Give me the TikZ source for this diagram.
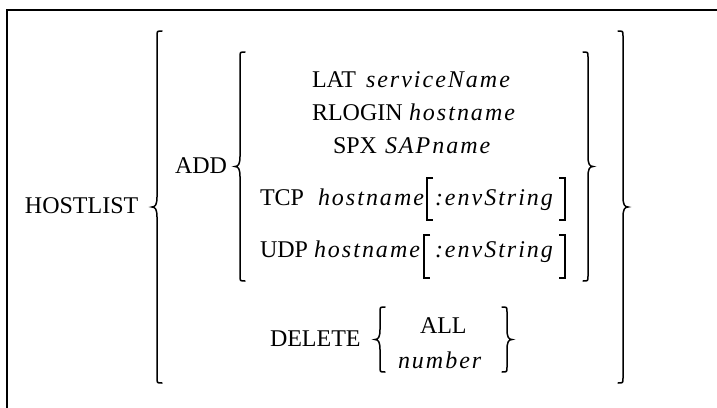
\documentclass[tikz,border=0pt]{standalone}
\usepackage{fontspec}
\setmainfont{Liberation Serif}
\ExplSyntaxOn
\NewDocumentCommand{\iv}{m}{{\itshape \tl_map_inline:nn {#1}{##1\kern1.0pt}}}
\ExplSyntaxOff
\tikzset{
  txt/.style={anchor=base west, inner sep=0pt, outer sep=0pt, font=\fontsize{12}{14}\selectfont},
  bracestyle/.style={line width=0.75pt, line cap=round},
  framestyle/.style={line width=1pt},
}
% left brace: #1 line x, #2 top y, #3 bottom y, #4 depth
\newcommand{\mylbrace}[4]{%
  \draw[bracestyle] ({#1+#4},#2) .. controls (#1,#2) .. (#1,{#2+#4})
    -- (#1,{(#2+#3)/2-2*#4}) .. controls (#1,{(#2+#3)/2-#4/2}) and ({#1-#4/3},{(#2+#3)/2}) .. ({#1-#4},{(#2+#3)/2})
    .. controls ({#1-#4/3},{(#2+#3)/2}) and (#1,{(#2+#3)/2+#4/2}) .. (#1,{(#2+#3)/2+2*#4})
    -- (#1,{#3-#4}) .. controls (#1,#3) .. ({#1+#4},#3);}
\newcommand{\myrbrace}[4]{%
  \draw[bracestyle] ({#1-#4},#2) .. controls (#1,#2) .. (#1,{#2+#4})
    -- (#1,{(#2+#3)/2-2*#4}) .. controls (#1,{(#2+#3)/2-#4/2}) and ({#1+#4/3},{(#2+#3)/2}) .. ({#1+#4},{(#2+#3)/2})
    .. controls ({#1+#4/3},{(#2+#3)/2}) and (#1,{(#2+#3)/2+#4/2}) .. (#1,{(#2+#3)/2+2*#4})
    -- (#1,{#3-#4}) .. controls (#1,#3) .. ({#1-#4},#3);}
% brackets: #1 x, #2 top, #3 bottom, #4 serif length (signed)
\newcommand{\mybracket}[4]{%
  \draw[line width=0.6pt] ({#1+#4},#2) -- (#1,#2) -- (#1,#3) -- ({#1+#4},#3);}
\begin{document}
\begin{tikzpicture}[x=0.5pt,y=-0.5pt]
\useasboundingbox (0,0) rectangle (717,407);
\draw[framestyle] (7,412) -- (7,9.5) -- (722,9.5);

\node[txt] (hostlist) at (25,213) {HOSTLIST};
\node[txt] (add) at (175,173) {ADD};

\node[txt] (lat) at (312,87) {LAT};
\node[txt] (latv) at (366,87) {\iv{serviceName}};
\node[txt] (rlogin) at (312,120) {RLOGIN};
\node[txt] (rloginv) at (409,120) {\iv{hostname}};
\node[txt] (spx) at (333,153) {SPX};
\node[txt] (spxv) at (385,153) {\iv{SAPname}};
\node[txt] (tcp) at (260,205) {TCP};
\node[txt] (tcpv) at (318,205) {\iv{hostname}};
\node[txt] (tcpe) at (435,205) {\iv{:envString}};
\node[txt] (udp) at (260,257) {UDP};
\node[txt] (udpv) at (314,257) {\iv{hostname}};
\node[txt] (udpe) at (435,257) {\iv{:envString}};
\node[txt] (delete) at (270,346) {DELETE};
\node[txt] (all) at (420,333) {ALL};
\node[txt] (number) at (398,368) {\iv{number}};

\mylbrace{157}{31}{383}{5}
\myrbrace{623}{31}{383}{5}
\mylbrace{240}{52}{281}{5}
\myrbrace{588}{52}{281}{5}
\mylbrace{380}{307}{372}{5}
\myrbrace{507}{307}{372}{5}

\mybracket{427}{178}{220}{6}
\mybracket{565}{178}{220}{-6}
\mybracket{424}{235}{278}{6}
\mybracket{565}{235}{278}{-6}
\end{tikzpicture}
\end{document}
